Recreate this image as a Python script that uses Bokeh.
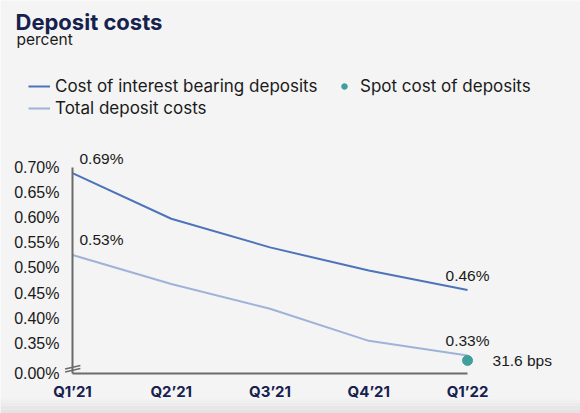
from bokeh.plotting import figure
from bokeh.models import (Range1d, FixedTicker, Legend, LegendItem, Label, Arrow,
                          ColumnDataSource, BoxAnnotation)
from bokeh.core.properties import value
from bokeh.embed import file_html
from bokeh.resources import INLINE

# ---- data ----
quarters = ["Q1\u201921", "Q2\u201921", "Q3\u201921", "Q4\u201921", "Q1\u201922"]
interest_bearing = [0.689, 0.598, 0.541, 0.495, 0.456]
total_costs = [0.526, 0.468, 0.419, 0.355, 0.326]
spot_cost = [0.316]
spot_label = "31.6 bps"
label_ib = ["0.69%", "0.46%"]
label_tot = ["0.53%", "0.33%"]
y_ticks = [0.35, 0.40, 0.45, 0.50, 0.55, 0.60, 0.65, 0.70]
y_break = 0.29   # axis break: shown as 0.00%

TITLE_C = "#16214d"
DARK = "#4d74ba"
LIGHT = "#9fb2d9"
TEAL = "#3f9f9b"
BG = "#f4f4f4"
TXT = "#1a1a1a"
AX = "#6b6b6b"

xs = list(range(len(quarters)))

p = figure(width=580, height=413, output_backend="svg", toolbar_location=None,
           x_range=Range1d(-0.729, 5.144), y_range=Range1d(0.2104, 1.0324),
           min_border=0)
p.background_fill_color = BG
p.border_fill_color = BG
p.outline_line_color = None
p.grid.visible = False

# soft shading at the bottom edge
for b, t, c in ((0, 4, "#e3e3e3"), (4, 8, "#e7e7e7"), (8, 11, "#ebebeb"), (11, 14, "#efefef")):
    p.add_layout(BoxAnnotation(bottom=b, top=t, bottom_units="screen", top_units="screen",
                               fill_color=c, fill_alpha=1.0, line_color=None))

# axes (drawn at fixed data positions inside the frame)
p.yaxis.fixed_location = 0
p.yaxis.ticker = FixedTicker(ticks=[y_break] + y_ticks)
p.yaxis.major_label_overrides = {y_break: "0.00%", **{round(v, 2): f"{v:.2f}%" for v in y_ticks}}
p.yaxis.bounds = (y_break, 0.70)
p.yaxis.axis_line_color = AX
p.yaxis.axis_line_width = 2
p.yaxis.major_tick_line_color = None
p.yaxis.minor_tick_line_color = None
p.yaxis.major_label_standoff = 7
p.yaxis.major_label_text_font = "Liberation Sans"
p.yaxis.major_label_text_font_size = "16px"
p.yaxis.major_label_text_color = TXT

p.xaxis.fixed_location = y_break
p.xaxis.ticker = FixedTicker(ticks=xs)
p.xaxis.major_label_overrides = {i: q for i, q in enumerate(quarters)}
p.xaxis.bounds = (0, 4)
p.xaxis.axis_line_color = AX
p.xaxis.axis_line_width = 2
p.xaxis.major_tick_line_color = None
p.xaxis.minor_tick_line_color = None
p.xaxis.major_label_standoff = 2
p.xaxis.major_label_text_font = "Inter"
p.xaxis.major_label_text_font_style = "bold"
p.xaxis.major_label_text_font_size = "15px"
p.xaxis.major_label_text_color = TITLE_C

# series
r1 = p.line(xs, interest_bearing, line_color=DARK, line_width=2)
r2 = p.line(xs, total_costs, line_color=LIGHT, line_width=2)
r3 = p.scatter([xs[-1]], spot_cost, size=10, fill_color=TEAL, line_color=TEAL)

lab_font = dict(text_baseline="middle", text_font=value("Liberation Sans"),
                text_font_size="15.5px", text_color=TXT)
first = ColumnDataSource(dict(x=[xs[0], xs[0]], y=[interest_bearing[0], total_costs[0]],
                              t=[label_ib[0], label_tot[0]]))
last = ColumnDataSource(dict(x=[xs[-1], xs[-1]], y=[interest_bearing[-1], total_costs[-1]],
                             t=[label_ib[1], label_tot[1]]))
p.text(x="x", y="y", text="t", source=first, x_offset=7, y_offset=-15,
       text_align="left", **lab_font)
p.text(x="x", y="y", text="t", source=last, x_offset=0, y_offset=-15,
       text_align="center", **lab_font)
p.text(x=[xs[-1]], y=spot_cost, text=[spot_label], x_offset=25, y_offset=0,
       text_align="left", **lab_font)

# axis break marks
for dy in (0.0, 0.006):
    p.add_layout(Arrow(end=None, start=None, x_start=-0.075, y_start=y_break + 0.003 + dy,
                       x_end=0.08, y_end=y_break + 0.010 + dy,
                       line_color=AX, line_width=1.5))

# legends
lg1 = Legend(items=[LegendItem(label="Cost of interest bearing deposits", renderers=[r1]),
                    LegendItem(label="Total deposit costs", renderers=[r2])],
             location=(28, 295), orientation="vertical")
lg2 = Legend(items=[LegendItem(label="Spot cost of deposits", renderers=[r3])],
             location=(337, 317), orientation="vertical")
for lg, gw, so in ((lg1, 22, 5), (lg2, 14, 9)):
    lg.padding = 0
    lg.margin = 0
    lg.spacing = 2
    lg.border_line_color = None
    lg.background_fill_alpha = 0
    lg.glyph_width = gw
    lg.glyph_height = 20
    lg.label_height = 20
    lg.label_standoff = so
    lg.label_text_font = "Inter"
    lg.label_text_font_size = "17px"
    lg.label_text_color = TXT
    p.add_layout(lg, "center")

# title / subtitle
p.add_layout(Label(x=15, y=392, x_units="screen", y_units="screen", text="Deposit costs",
                   text_font="Inter", text_font_style="bold", text_font_size="22px",
                   text_color=TITLE_C, text_baseline="alphabetic"))
p.add_layout(Label(x=16, y=374, x_units="screen", y_units="screen", text="percent",
                   text_font="Inter", text_font_size="15.5px", text_color=TXT,
                   text_baseline="alphabetic"))

html = file_html(p, INLINE)
html = html.replace("<body>", f"<body style=\"background:{BG};\">", 1)
open("out.html", "w").write(html)
